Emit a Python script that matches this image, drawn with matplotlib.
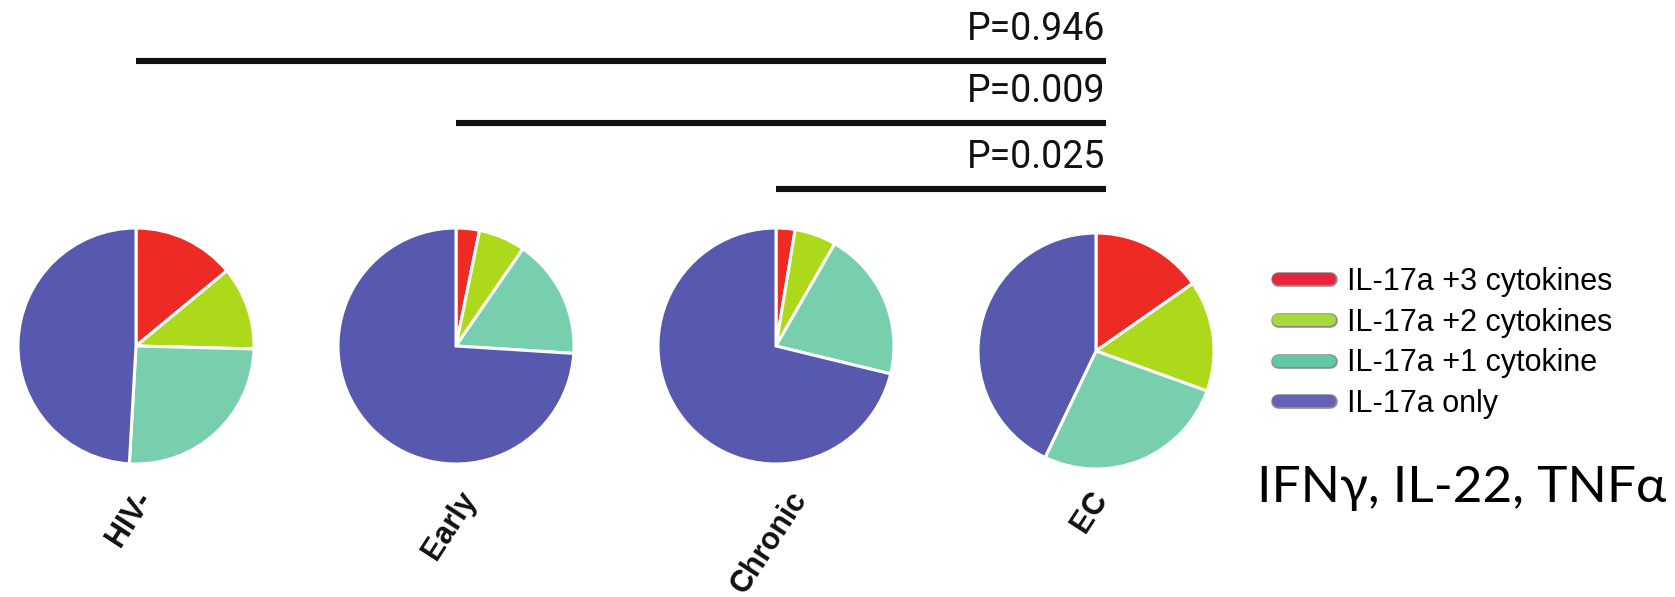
import matplotlib
matplotlib.use("Agg")
import matplotlib.pyplot as plt
from matplotlib.lines import Line2D
import matplotlib.patheffects as pe

# Group names and slice percentages (IL-17a +3, +2, +1 cytokines, IL-17a only)
groups = ['HIV-', 'Early', 'Chronic', 'EC']
plus3 = [14.0, 3.2, 2.6, 15.3]
plus2 = [11.4, 6.4, 5.7, 15.2]
plus1 = [25.5, 16.4, 20.5, 26.6]
only = [49.1, 74.0, 71.2, 42.9]

categories = ['IL-17a +3 cytokines', 'IL-17a +2 cytokines',
              'IL-17a +1 cytokine', 'IL-17a only']
pie_colors = ['#ED2B24', '#ACD91A', '#77CFAE', '#5659AD']
legend_colors = ['#E8253C', '#A8D83C', '#62C9A6', '#6563B9']

# Pairwise comparisons against EC
comp_start = [0, 1, 2]
comp_end = [3, 3, 3]
p_values = ['P=0.946', 'P=0.009', 'P=0.025']

W, H = 1675, 597
fig = plt.figure(figsize=(W / 100, H / 100), dpi=100)

# pixel layout
x0, step, r = 136, 320, 118
cy = [346, 346, 346, 351]

ax0 = fig.add_axes([0, 0, 1, 1])
ax0.set_xlim(-x0 / step, (W - x0) / step)
ax0.set_ylim(H, 0)
ax0.axis('off')

for i, g in enumerate(groups):
    cx = x0 + step * i
    ax = fig.add_axes([(cx - r) / W, 1 - (cy[i] + r) / H, 2 * r / W, 2 * r / H])
    vals = [plus3[i], plus2[i], plus1[i], only[i]]
    ax.pie(vals, colors=pie_colors, startangle=90, counterclock=False,
           wedgeprops=dict(edgecolor='white', linewidth=2.2, clip_on=False))
    ax.set_xlim(-1, 1)
    ax.set_ylim(-1, 1)
    ax.set_aspect('equal')
    ax0.text(i - 0.02, 486, g, rotation=57, ha='center', va='top', fontsize=22,
             fontweight='bold', family='Liberation Sans', color='#111111')

# significance bars
bar_y = [61, 123, 189]
for s, e, p, y in zip(comp_start, comp_end, p_values, bar_y):
    ax0.plot([s, e + 0.03], [y, y], color='#111111', lw=4.4, solid_capstyle='butt')
    ax0.text(e + 0.03, y - 21, p, ha='right', va='baseline', fontsize=27,
             family=['Liberation Sans Narrow', 'Roboto'], color='#111111')

handles = [Line2D([], [], color=c, lw=8.5, solid_capstyle='round',
                  path_effects=[pe.Stroke(linewidth=10.5, foreground='#8c8c8c'), pe.Normal()])
           for c in legend_colors]
fig.legend(handles, categories, loc='upper left',
           bbox_to_anchor=(1278 / W, 1 - 267 / H), frameon=False,
           borderpad=0, borderaxespad=0, handlelength=1.7, handletextpad=0.55,
           labelspacing=0.35, prop=dict(family='Liberation Sans', size=22))

fig.text(1666 / W, 1 - 502 / H, 'IFN\u03b3, IL-22, TNF\u03b1', ha='right', va='baseline',
         fontsize=37, family=['Lato', 'DejaVu Sans'], color='black')

fig.savefig('out.png', dpi=100)
